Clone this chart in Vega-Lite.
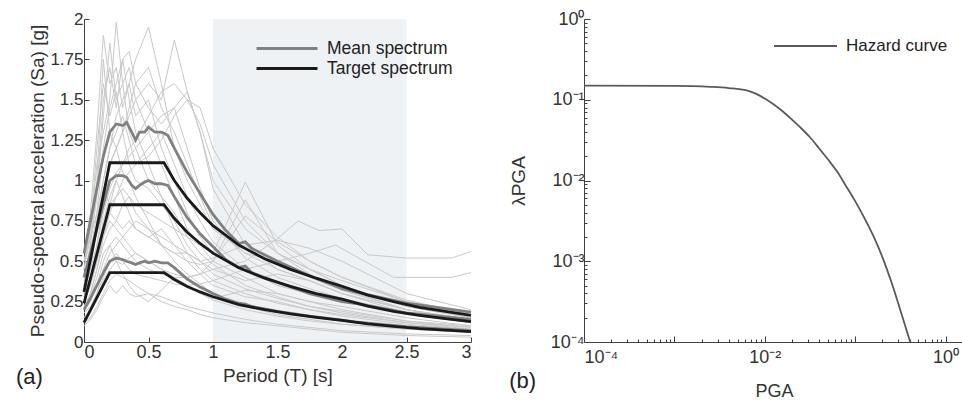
{
"$schema":"https://vega.github.io/schema/vega-lite/v6.json",
"padding":{"left":15,"top":10,"right":0,"bottom":0},
"spacing":32,
"resolve":{"scale":{"color":"independent"},"legend":{"color":"independent"}},
"config":{"font":"Liberation Sans","view":{"stroke":null},
"axis":{"grid":false,"domainColor":"#404040","tickColor":"#404040","labelColor":"#333333","titleColor":"#333333","labelFontSize":17,"titleFontSize":19,"titleFontWeight":"normal","tickSize":-5,"labelPadding":6},
"axisX":{"labelFontSize":18},
"legend":{"orient":"top-right","title":null,"symbolType":"M-5.1,0H1","symbolSize":400,"labelFontSize":17.5,"labelColor":"#222222","padding":0,"rowPadding":0,"labelOffset":8},
"title":{"fontSize":22,"fontWeight":"normal","color":"#222222"}},
"datasets":{
"rec":[
{"id":1,"T":0,"Sa":0.35},{"id":1,"T":0.05,"Sa":0.6},{"id":1,"T":0.1,"Sa":0.9},{"id":1,"T":0.15,"Sa":1.4},{"id":1,"T":0.2,"Sa":1.85},{"id":1,"T":0.25,"Sa":1.5},{"id":1,"T":0.3,"Sa":1.6},{"id":1,"T":0.35,"Sa":1.3},{"id":1,"T":0.4,"Sa":1.2},{"id":1,"T":0.5,"Sa":1.0},{"id":1,"T":0.6,"Sa":0.9},{"id":1,"T":0.7,"Sa":0.8},{"id":1,"T":0.8,"Sa":0.65},{"id":1,"T":0.9,"Sa":0.55},{"id":1,"T":1.0,"Sa":0.48},{"id":1,"T":1.25,"Sa":0.35},{"id":1,"T":1.5,"Sa":0.28},{"id":1,"T":1.75,"Sa":0.22},{"id":1,"T":2.0,"Sa":0.18},{"id":1,"T":2.5,"Sa":0.12},{"id":1,"T":3.0,"Sa":0.08},
{"id":2,"T":0,"Sa":0.45},{"id":2,"T":0.05,"Sa":0.7},{"id":2,"T":0.1,"Sa":1.1},{"id":2,"T":0.15,"Sa":1.3},{"id":2,"T":0.2,"Sa":1.5},{"id":2,"T":0.25,"Sa":1.98},{"id":2,"T":0.3,"Sa":1.6},{"id":2,"T":0.35,"Sa":1.7},{"id":2,"T":0.4,"Sa":1.5},{"id":2,"T":0.5,"Sa":1.3},{"id":2,"T":0.6,"Sa":1.1},{"id":2,"T":0.7,"Sa":0.9},{"id":2,"T":0.8,"Sa":0.7},{"id":2,"T":0.9,"Sa":0.6},{"id":2,"T":1.0,"Sa":0.5},{"id":2,"T":1.25,"Sa":0.4},{"id":2,"T":1.5,"Sa":0.3},{"id":2,"T":1.75,"Sa":0.25},{"id":2,"T":2.0,"Sa":0.22},{"id":2,"T":2.5,"Sa":0.15},{"id":2,"T":3.0,"Sa":0.1},
{"id":3,"T":0,"Sa":0.5},{"id":3,"T":0.05,"Sa":0.65},{"id":3,"T":0.1,"Sa":0.8},{"id":3,"T":0.15,"Sa":1.0},{"id":3,"T":0.2,"Sa":1.2},{"id":3,"T":0.25,"Sa":1.4},{"id":3,"T":0.3,"Sa":1.5},{"id":3,"T":0.35,"Sa":1.6},{"id":3,"T":0.4,"Sa":1.75},{"id":3,"T":0.5,"Sa":1.95},{"id":3,"T":0.6,"Sa":1.6},{"id":3,"T":0.7,"Sa":1.2},{"id":3,"T":0.8,"Sa":1.0},{"id":3,"T":0.9,"Sa":0.85},{"id":3,"T":1.0,"Sa":0.7},{"id":3,"T":1.25,"Sa":0.55},{"id":3,"T":1.5,"Sa":0.45},{"id":3,"T":1.75,"Sa":0.38},{"id":3,"T":2.0,"Sa":0.3},{"id":3,"T":2.5,"Sa":0.2},{"id":3,"T":3.0,"Sa":0.14},
{"id":4,"T":0,"Sa":0.4},{"id":4,"T":0.05,"Sa":0.55},{"id":4,"T":0.1,"Sa":0.7},{"id":4,"T":0.15,"Sa":0.9},{"id":4,"T":0.2,"Sa":1.1},{"id":4,"T":0.25,"Sa":1.2},{"id":4,"T":0.3,"Sa":1.3},{"id":4,"T":0.35,"Sa":1.4},{"id":4,"T":0.4,"Sa":1.5},{"id":4,"T":0.5,"Sa":1.6},{"id":4,"T":0.6,"Sa":1.5},{"id":4,"T":0.7,"Sa":1.87},{"id":4,"T":0.8,"Sa":1.55},{"id":4,"T":0.9,"Sa":1.3},{"id":4,"T":1.0,"Sa":1.0},{"id":4,"T":1.25,"Sa":0.7},{"id":4,"T":1.5,"Sa":0.55},{"id":4,"T":1.75,"Sa":0.45},{"id":4,"T":2.0,"Sa":0.38},{"id":4,"T":2.5,"Sa":0.25},{"id":4,"T":3.0,"Sa":0.18},
{"id":5,"T":0,"Sa":0.55},{"id":5,"T":0.05,"Sa":0.8},{"id":5,"T":0.1,"Sa":1.3},{"id":5,"T":0.15,"Sa":1.9},{"id":5,"T":0.2,"Sa":1.6},{"id":5,"T":0.25,"Sa":1.7},{"id":5,"T":0.3,"Sa":1.45},{"id":5,"T":0.35,"Sa":1.6},{"id":5,"T":0.4,"Sa":1.4},{"id":5,"T":0.5,"Sa":1.5},{"id":5,"T":0.6,"Sa":1.2},{"id":5,"T":0.7,"Sa":1.0},{"id":5,"T":0.8,"Sa":0.8},{"id":5,"T":0.9,"Sa":0.65},{"id":5,"T":1.0,"Sa":0.55},{"id":5,"T":1.25,"Sa":0.45},{"id":5,"T":1.5,"Sa":0.35},{"id":5,"T":1.75,"Sa":0.3},{"id":5,"T":2.0,"Sa":0.25},{"id":5,"T":2.5,"Sa":0.17},{"id":5,"T":3.0,"Sa":0.12},
{"id":6,"T":0,"Sa":0.3},{"id":6,"T":0.05,"Sa":0.4},{"id":6,"T":0.1,"Sa":0.55},{"id":6,"T":0.15,"Sa":0.75},{"id":6,"T":0.2,"Sa":0.9},{"id":6,"T":0.25,"Sa":1.0},{"id":6,"T":0.3,"Sa":1.1},{"id":6,"T":0.35,"Sa":1.2},{"id":6,"T":0.4,"Sa":1.25},{"id":6,"T":0.5,"Sa":1.4},{"id":6,"T":0.6,"Sa":1.55},{"id":6,"T":0.7,"Sa":1.6},{"id":6,"T":0.8,"Sa":1.5},{"id":6,"T":0.9,"Sa":1.35},{"id":6,"T":1.0,"Sa":1.1},{"id":6,"T":1.25,"Sa":0.75},{"id":6,"T":1.5,"Sa":0.55},{"id":6,"T":1.75,"Sa":0.45},{"id":6,"T":2.0,"Sa":0.35},{"id":6,"T":2.5,"Sa":0.22},{"id":6,"T":3.0,"Sa":0.15},
{"id":7,"T":0,"Sa":0.35},{"id":7,"T":0.05,"Sa":0.45},{"id":7,"T":0.1,"Sa":0.6},{"id":7,"T":0.15,"Sa":0.8},{"id":7,"T":0.2,"Sa":0.95},{"id":7,"T":0.25,"Sa":1.05},{"id":7,"T":0.3,"Sa":1.1},{"id":7,"T":0.35,"Sa":1.15},{"id":7,"T":0.4,"Sa":1.2},{"id":7,"T":0.5,"Sa":1.3},{"id":7,"T":0.6,"Sa":1.4},{"id":7,"T":0.7,"Sa":1.45},{"id":7,"T":0.8,"Sa":1.55},{"id":7,"T":0.9,"Sa":1.3},{"id":7,"T":1.0,"Sa":0.95},{"id":7,"T":1.25,"Sa":0.6},{"id":7,"T":1.5,"Sa":0.45},{"id":7,"T":1.75,"Sa":0.38},{"id":7,"T":2.0,"Sa":0.3},{"id":7,"T":2.5,"Sa":0.2},{"id":7,"T":3.0,"Sa":0.14},
{"id":8,"T":0,"Sa":0.25},{"id":8,"T":0.05,"Sa":0.35},{"id":8,"T":0.1,"Sa":0.5},{"id":8,"T":0.15,"Sa":0.7},{"id":8,"T":0.2,"Sa":0.8},{"id":8,"T":0.25,"Sa":0.9},{"id":8,"T":0.3,"Sa":0.95},{"id":8,"T":0.35,"Sa":0.9},{"id":8,"T":0.4,"Sa":0.85},{"id":8,"T":0.5,"Sa":0.8},{"id":8,"T":0.6,"Sa":0.75},{"id":8,"T":0.7,"Sa":0.7},{"id":8,"T":0.8,"Sa":0.65},{"id":8,"T":0.9,"Sa":0.6},{"id":8,"T":1.0,"Sa":0.55},{"id":8,"T":1.25,"Sa":0.99},{"id":8,"T":1.5,"Sa":0.6},{"id":8,"T":1.75,"Sa":0.45},{"id":8,"T":2.0,"Sa":0.35},{"id":8,"T":2.5,"Sa":0.22},{"id":8,"T":3.0,"Sa":0.15},
{"id":9,"T":0,"Sa":0.2},{"id":9,"T":0.05,"Sa":0.3},{"id":9,"T":0.1,"Sa":0.45},{"id":9,"T":0.15,"Sa":0.6},{"id":9,"T":0.2,"Sa":0.7},{"id":9,"T":0.25,"Sa":0.75},{"id":9,"T":0.3,"Sa":0.7},{"id":9,"T":0.35,"Sa":0.75},{"id":9,"T":0.4,"Sa":0.7},{"id":9,"T":0.5,"Sa":0.65},{"id":9,"T":0.6,"Sa":0.6},{"id":9,"T":0.7,"Sa":0.55},{"id":9,"T":0.8,"Sa":0.5},{"id":9,"T":0.9,"Sa":0.48},{"id":9,"T":1.0,"Sa":0.5},{"id":9,"T":1.25,"Sa":0.88},{"id":9,"T":1.5,"Sa":0.55},{"id":9,"T":1.75,"Sa":0.42},{"id":9,"T":2.0,"Sa":0.33},{"id":9,"T":2.5,"Sa":0.2},{"id":9,"T":3.0,"Sa":0.13},
{"id":10,"T":0,"Sa":0.15},{"id":10,"T":0.05,"Sa":0.2},{"id":10,"T":0.1,"Sa":0.3},{"id":10,"T":0.15,"Sa":0.45},{"id":10,"T":0.2,"Sa":0.55},{"id":10,"T":0.25,"Sa":0.6},{"id":10,"T":0.3,"Sa":0.65},{"id":10,"T":0.35,"Sa":0.6},{"id":10,"T":0.4,"Sa":0.55},{"id":10,"T":0.5,"Sa":0.5},{"id":10,"T":0.6,"Sa":0.45},{"id":10,"T":0.7,"Sa":0.42},{"id":10,"T":0.8,"Sa":0.4},{"id":10,"T":0.9,"Sa":0.42},{"id":10,"T":1.0,"Sa":0.5},{"id":10,"T":1.25,"Sa":0.78},{"id":10,"T":1.5,"Sa":0.62},{"id":10,"T":1.75,"Sa":0.5},{"id":10,"T":2.0,"Sa":0.4},{"id":10,"T":2.5,"Sa":0.25},{"id":10,"T":3.0,"Sa":0.16},
{"id":11,"T":0,"Sa":0.2},{"id":11,"T":0.05,"Sa":0.25},{"id":11,"T":0.1,"Sa":0.35},{"id":11,"T":0.15,"Sa":0.5},{"id":11,"T":0.2,"Sa":0.6},{"id":11,"T":0.25,"Sa":0.65},{"id":11,"T":0.3,"Sa":0.6},{"id":11,"T":0.35,"Sa":0.55},{"id":11,"T":0.4,"Sa":0.5},{"id":11,"T":0.5,"Sa":0.45},{"id":11,"T":0.6,"Sa":0.42},{"id":11,"T":0.7,"Sa":0.4},{"id":11,"T":0.8,"Sa":0.4},{"id":11,"T":0.9,"Sa":0.42},{"id":11,"T":1.0,"Sa":0.45},{"id":11,"T":1.25,"Sa":0.5},{"id":11,"T":1.5,"Sa":0.64},{"id":11,"T":1.66,"Sa":0.75},{"id":11,"T":1.82,"Sa":0.69},{"id":11,"T":2.0,"Sa":0.7},{"id":11,"T":2.2,"Sa":0.54},{"id":11,"T":2.5,"Sa":0.52},{"id":11,"T":2.85,"Sa":0.52},{"id":11,"T":3.0,"Sa":0.56},
{"id":12,"T":0,"Sa":0.18},{"id":12,"T":0.05,"Sa":0.22},{"id":12,"T":0.1,"Sa":0.3},{"id":12,"T":0.15,"Sa":0.4},{"id":12,"T":0.2,"Sa":0.5},{"id":12,"T":0.25,"Sa":0.55},{"id":12,"T":0.3,"Sa":0.5},{"id":12,"T":0.35,"Sa":0.45},{"id":12,"T":0.4,"Sa":0.42},{"id":12,"T":0.5,"Sa":0.4},{"id":12,"T":0.6,"Sa":0.38},{"id":12,"T":0.7,"Sa":0.36},{"id":12,"T":0.8,"Sa":0.35},{"id":12,"T":0.9,"Sa":0.36},{"id":12,"T":1.0,"Sa":0.38},{"id":12,"T":1.25,"Sa":0.45},{"id":12,"T":1.5,"Sa":0.5},{"id":12,"T":1.75,"Sa":0.55},{"id":12,"T":1.95,"Sa":0.6},{"id":12,"T":2.4,"Sa":0.4},{"id":12,"T":2.85,"Sa":0.4},{"id":12,"T":3.0,"Sa":0.43},
{"id":13,"T":0,"Sa":0.12},{"id":13,"T":0.05,"Sa":0.15},{"id":13,"T":0.1,"Sa":0.22},{"id":13,"T":0.15,"Sa":0.3},{"id":13,"T":0.2,"Sa":0.38},{"id":13,"T":0.25,"Sa":0.42},{"id":13,"T":0.3,"Sa":0.4},{"id":13,"T":0.35,"Sa":0.38},{"id":13,"T":0.4,"Sa":0.35},{"id":13,"T":0.5,"Sa":0.3},{"id":13,"T":0.6,"Sa":0.28},{"id":13,"T":0.7,"Sa":0.25},{"id":13,"T":0.8,"Sa":0.22},{"id":13,"T":0.9,"Sa":0.2},{"id":13,"T":1.0,"Sa":0.18},{"id":13,"T":1.25,"Sa":0.14},{"id":13,"T":1.5,"Sa":0.11},{"id":13,"T":1.75,"Sa":0.09},{"id":13,"T":2.0,"Sa":0.07},{"id":13,"T":2.5,"Sa":0.05},{"id":13,"T":3.0,"Sa":0.04},
{"id":14,"T":0,"Sa":0.28},{"id":14,"T":0.05,"Sa":0.4},{"id":14,"T":0.1,"Sa":0.6},{"id":14,"T":0.15,"Sa":0.85},{"id":14,"T":0.2,"Sa":1.1},{"id":14,"T":0.25,"Sa":1.2},{"id":14,"T":0.3,"Sa":1.05},{"id":14,"T":0.35,"Sa":1.0},{"id":14,"T":0.4,"Sa":0.9},{"id":14,"T":0.5,"Sa":0.75},{"id":14,"T":0.6,"Sa":0.6},{"id":14,"T":0.7,"Sa":0.5},{"id":14,"T":0.8,"Sa":0.42},{"id":14,"T":0.9,"Sa":0.36},{"id":14,"T":1.0,"Sa":0.3},{"id":14,"T":1.25,"Sa":0.22},{"id":14,"T":1.5,"Sa":0.17},{"id":14,"T":1.75,"Sa":0.14},{"id":14,"T":2.0,"Sa":0.11},{"id":14,"T":2.5,"Sa":0.08},{"id":14,"T":3.0,"Sa":0.06},
{"id":15,"T":0,"Sa":0.4},{"id":15,"T":0.05,"Sa":0.6},{"id":15,"T":0.1,"Sa":0.95},{"id":15,"T":0.15,"Sa":1.5},{"id":15,"T":0.2,"Sa":1.7},{"id":15,"T":0.25,"Sa":1.45},{"id":15,"T":0.3,"Sa":1.75},{"id":15,"T":0.35,"Sa":1.5},{"id":15,"T":0.4,"Sa":1.3},{"id":15,"T":0.5,"Sa":1.1},{"id":15,"T":0.6,"Sa":0.9},{"id":15,"T":0.7,"Sa":0.7},{"id":15,"T":0.8,"Sa":0.55},{"id":15,"T":0.9,"Sa":0.45},{"id":15,"T":1.0,"Sa":0.38},{"id":15,"T":1.25,"Sa":0.3},{"id":15,"T":1.5,"Sa":0.24},{"id":15,"T":1.75,"Sa":0.2},{"id":15,"T":2.0,"Sa":0.16},{"id":15,"T":2.5,"Sa":0.11},{"id":15,"T":3.0,"Sa":0.08},
{"id":16,"T":0,"Sa":0.5},{"id":16,"T":0.05,"Sa":0.7},{"id":16,"T":0.1,"Sa":1.2},{"id":16,"T":0.15,"Sa":1.6},{"id":16,"T":0.2,"Sa":1.4},{"id":16,"T":0.25,"Sa":1.55},{"id":16,"T":0.3,"Sa":1.3},{"id":16,"T":0.35,"Sa":1.45},{"id":16,"T":0.4,"Sa":1.6},{"id":16,"T":0.5,"Sa":1.7},{"id":16,"T":0.6,"Sa":1.45},{"id":16,"T":0.7,"Sa":1.3},{"id":16,"T":0.8,"Sa":1.1},{"id":16,"T":0.9,"Sa":0.9},{"id":16,"T":1.0,"Sa":0.72},{"id":16,"T":1.25,"Sa":0.55},{"id":16,"T":1.5,"Sa":0.5},{"id":16,"T":1.75,"Sa":0.4},{"id":16,"T":2.0,"Sa":0.32},{"id":16,"T":2.5,"Sa":0.2},{"id":16,"T":3.0,"Sa":0.13},
{"id":17,"T":0,"Sa":0.3},{"id":17,"T":0.05,"Sa":0.45},{"id":17,"T":0.1,"Sa":0.7},{"id":17,"T":0.15,"Sa":0.95},{"id":17,"T":0.2,"Sa":0.85},{"id":17,"T":0.25,"Sa":1.0},{"id":17,"T":0.3,"Sa":0.9},{"id":17,"T":0.35,"Sa":0.8},{"id":17,"T":0.4,"Sa":0.7},{"id":17,"T":0.5,"Sa":0.65},{"id":17,"T":0.6,"Sa":0.7},{"id":17,"T":0.7,"Sa":0.6},{"id":17,"T":0.8,"Sa":0.5},{"id":17,"T":0.9,"Sa":0.42},{"id":17,"T":1.0,"Sa":0.35},{"id":17,"T":1.25,"Sa":0.28},{"id":17,"T":1.5,"Sa":0.25},{"id":17,"T":1.75,"Sa":0.2},{"id":17,"T":2.0,"Sa":0.17},{"id":17,"T":2.5,"Sa":0.12},{"id":17,"T":3.0,"Sa":0.09},
{"id":18,"T":0,"Sa":0.2},{"id":18,"T":0.05,"Sa":0.28},{"id":18,"T":0.1,"Sa":0.4},{"id":18,"T":0.15,"Sa":0.55},{"id":18,"T":0.2,"Sa":0.6},{"id":18,"T":0.25,"Sa":0.5},{"id":18,"T":0.3,"Sa":0.42},{"id":18,"T":0.35,"Sa":0.35},{"id":18,"T":0.4,"Sa":0.3},{"id":18,"T":0.5,"Sa":0.25},{"id":18,"T":0.6,"Sa":0.32},{"id":18,"T":0.7,"Sa":0.4},{"id":18,"T":0.8,"Sa":0.35},{"id":18,"T":0.9,"Sa":0.3},{"id":18,"T":1.0,"Sa":0.26},{"id":18,"T":1.25,"Sa":0.2},{"id":18,"T":1.5,"Sa":0.16},{"id":18,"T":1.75,"Sa":0.13},{"id":18,"T":2.0,"Sa":0.11},{"id":18,"T":2.5,"Sa":0.08},{"id":18,"T":3.0,"Sa":0.06},
{"id":19,"T":0,"Sa":0.22},{"id":19,"T":0.05,"Sa":0.3},{"id":19,"T":0.1,"Sa":0.45},{"id":19,"T":0.15,"Sa":0.65},{"id":19,"T":0.2,"Sa":0.8},{"id":19,"T":0.25,"Sa":0.75},{"id":19,"T":0.3,"Sa":0.85},{"id":19,"T":0.35,"Sa":0.9},{"id":19,"T":0.4,"Sa":0.8},{"id":19,"T":0.5,"Sa":0.7},{"id":19,"T":0.6,"Sa":0.6},{"id":19,"T":0.7,"Sa":0.55},{"id":19,"T":0.8,"Sa":0.55},{"id":19,"T":0.9,"Sa":0.5},{"id":19,"T":1.0,"Sa":0.45},{"id":19,"T":1.25,"Sa":0.38},{"id":19,"T":1.5,"Sa":0.42},{"id":19,"T":1.75,"Sa":0.38},{"id":19,"T":2.0,"Sa":0.3},{"id":19,"T":2.5,"Sa":0.18},{"id":19,"T":3.0,"Sa":0.12},
{"id":20,"T":0,"Sa":0.33},{"id":20,"T":0.05,"Sa":0.5},{"id":20,"T":0.1,"Sa":0.75},{"id":20,"T":0.15,"Sa":1.0},{"id":20,"T":0.2,"Sa":1.2},{"id":20,"T":0.25,"Sa":1.3},{"id":20,"T":0.3,"Sa":1.4},{"id":20,"T":0.35,"Sa":1.25},{"id":20,"T":0.4,"Sa":1.1},{"id":20,"T":0.5,"Sa":1.2},{"id":20,"T":0.6,"Sa":1.3},{"id":20,"T":0.7,"Sa":1.1},{"id":20,"T":0.8,"Sa":0.9},{"id":20,"T":0.9,"Sa":0.75},{"id":20,"T":1.0,"Sa":0.62},{"id":20,"T":1.25,"Sa":0.45},{"id":20,"T":1.5,"Sa":0.35},{"id":20,"T":1.75,"Sa":0.3},{"id":20,"T":2.0,"Sa":0.26},{"id":20,"T":2.5,"Sa":0.18},{"id":20,"T":3.0,"Sa":0.12},
{"id":21,"T":0,"Sa":0.3},{"id":21,"T":0.05,"Sa":0.4},{"id":21,"T":0.1,"Sa":0.55},{"id":21,"T":0.15,"Sa":0.7},{"id":21,"T":0.2,"Sa":0.85},{"id":21,"T":0.25,"Sa":0.9},{"id":21,"T":0.3,"Sa":1.0},{"id":21,"T":0.35,"Sa":1.05},{"id":21,"T":0.4,"Sa":1.1},{"id":21,"T":0.5,"Sa":1.15},{"id":21,"T":0.6,"Sa":1.25},{"id":21,"T":0.7,"Sa":1.4},{"id":21,"T":0.8,"Sa":1.5},{"id":21,"T":0.9,"Sa":1.45},{"id":21,"T":1.0,"Sa":1.2},{"id":21,"T":1.25,"Sa":0.85},{"id":21,"T":1.5,"Sa":0.65},{"id":21,"T":1.75,"Sa":0.5},{"id":21,"T":2.0,"Sa":0.4},{"id":21,"T":2.5,"Sa":0.26},{"id":21,"T":3.0,"Sa":0.17},
{"id":22,"T":0,"Sa":0.15},{"id":22,"T":0.05,"Sa":0.2},{"id":22,"T":0.1,"Sa":0.28},{"id":22,"T":0.15,"Sa":0.38},{"id":22,"T":0.2,"Sa":0.45},{"id":22,"T":0.25,"Sa":0.5},{"id":22,"T":0.3,"Sa":0.48},{"id":22,"T":0.35,"Sa":0.52},{"id":22,"T":0.4,"Sa":0.55},{"id":22,"T":0.5,"Sa":0.5},{"id":22,"T":0.6,"Sa":0.45},{"id":22,"T":0.7,"Sa":0.4},{"id":22,"T":0.8,"Sa":0.35},{"id":22,"T":0.9,"Sa":0.3},{"id":22,"T":1.0,"Sa":0.27},{"id":22,"T":1.25,"Sa":0.32},{"id":22,"T":1.5,"Sa":0.3},{"id":22,"T":1.75,"Sa":0.25},{"id":22,"T":2.0,"Sa":0.2},{"id":22,"T":2.5,"Sa":0.13},{"id":22,"T":3.0,"Sa":0.09},
{"id":23,"T":0,"Sa":0.25},{"id":23,"T":0.05,"Sa":0.35},{"id":23,"T":0.1,"Sa":0.5},{"id":23,"T":0.15,"Sa":0.65},{"id":23,"T":0.2,"Sa":0.75},{"id":23,"T":0.25,"Sa":0.7},{"id":23,"T":0.3,"Sa":0.65},{"id":23,"T":0.35,"Sa":0.7},{"id":23,"T":0.4,"Sa":0.75},{"id":23,"T":0.5,"Sa":0.7},{"id":23,"T":0.6,"Sa":0.65},{"id":23,"T":0.7,"Sa":0.6},{"id":23,"T":0.8,"Sa":0.55},{"id":23,"T":0.9,"Sa":0.5},{"id":23,"T":1.0,"Sa":0.52},{"id":23,"T":1.25,"Sa":0.6},{"id":23,"T":1.5,"Sa":0.63},{"id":23,"T":1.75,"Sa":0.58},{"id":23,"T":2.0,"Sa":0.5},{"id":23,"T":2.5,"Sa":0.3},{"id":23,"T":3.0,"Sa":0.2},
{"id":24,"T":0,"Sa":0.45},{"id":24,"T":0.05,"Sa":0.65},{"id":24,"T":0.1,"Sa":1.0},{"id":24,"T":0.15,"Sa":1.75},{"id":24,"T":0.2,"Sa":1.3},{"id":24,"T":0.25,"Sa":1.2},{"id":24,"T":0.3,"Sa":1.3},{"id":24,"T":0.35,"Sa":1.1},{"id":24,"T":0.4,"Sa":1.0},{"id":24,"T":0.5,"Sa":0.95},{"id":24,"T":0.6,"Sa":0.85},{"id":24,"T":0.7,"Sa":0.75},{"id":24,"T":0.8,"Sa":0.6},{"id":24,"T":0.9,"Sa":0.5},{"id":24,"T":1.0,"Sa":0.42},{"id":24,"T":1.25,"Sa":0.33},{"id":24,"T":1.5,"Sa":0.27},{"id":24,"T":1.75,"Sa":0.22},{"id":24,"T":2.0,"Sa":0.19},{"id":24,"T":2.5,"Sa":0.13},{"id":24,"T":3.0,"Sa":0.1},
{"id":25,"T":0,"Sa":0.1},{"id":25,"T":0.05,"Sa":0.14},{"id":25,"T":0.1,"Sa":0.2},{"id":25,"T":0.15,"Sa":0.28},{"id":25,"T":0.2,"Sa":0.35},{"id":25,"T":0.25,"Sa":0.3},{"id":25,"T":0.3,"Sa":0.35},{"id":25,"T":0.35,"Sa":0.3},{"id":25,"T":0.4,"Sa":0.28},{"id":25,"T":0.5,"Sa":0.3},{"id":25,"T":0.6,"Sa":0.25},{"id":25,"T":0.7,"Sa":0.22},{"id":25,"T":0.8,"Sa":0.2},{"id":25,"T":0.9,"Sa":0.17},{"id":25,"T":1.0,"Sa":0.15},{"id":25,"T":1.25,"Sa":0.12},{"id":25,"T":1.5,"Sa":0.1},{"id":25,"T":1.75,"Sa":0.08},{"id":25,"T":2.0,"Sa":0.06},{"id":25,"T":2.5,"Sa":0.04},{"id":25,"T":3.0,"Sa":0.03},
{"id":26,"T":0,"Sa":0.38},{"id":26,"T":0.05,"Sa":0.55},{"id":26,"T":0.1,"Sa":0.8},{"id":26,"T":0.15,"Sa":1.2},{"id":26,"T":0.2,"Sa":1.45},{"id":26,"T":0.25,"Sa":1.6},{"id":26,"T":0.3,"Sa":1.75},{"id":26,"T":0.35,"Sa":1.8},{"id":26,"T":0.4,"Sa":1.6},{"id":26,"T":0.5,"Sa":1.45},{"id":26,"T":0.6,"Sa":1.35},{"id":26,"T":0.7,"Sa":1.45},{"id":26,"T":0.8,"Sa":1.2},{"id":26,"T":0.9,"Sa":0.95},{"id":26,"T":1.0,"Sa":0.75},{"id":26,"T":1.25,"Sa":0.52},{"id":26,"T":1.5,"Sa":0.4},{"id":26,"T":1.75,"Sa":0.33},{"id":26,"T":2.0,"Sa":0.27},{"id":26,"T":2.5,"Sa":0.18},{"id":26,"T":3.0,"Sa":0.12}
],
"spec":[
{"type":"Mean spectrum","lvl":1,"T":0,"Sa":0.55},{"type":"Mean spectrum","lvl":1,"T":0.05,"Sa":0.75},{"type":"Mean spectrum","lvl":1,"T":0.1,"Sa":0.95},{"type":"Mean spectrum","lvl":1,"T":0.15,"Sa":1.15},{"type":"Mean spectrum","lvl":1,"T":0.2,"Sa":1.3},{"type":"Mean spectrum","lvl":1,"T":0.25,"Sa":1.35},{"type":"Mean spectrum","lvl":1,"T":0.3,"Sa":1.34},{"type":"Mean spectrum","lvl":1,"T":0.33,"Sa":1.36},{"type":"Mean spectrum","lvl":1,"T":0.37,"Sa":1.3},{"type":"Mean spectrum","lvl":1,"T":0.4,"Sa":1.25},{"type":"Mean spectrum","lvl":1,"T":0.43,"Sa":1.3},{"type":"Mean spectrum","lvl":1,"T":0.47,"Sa":1.3},{"type":"Mean spectrum","lvl":1,"T":0.5,"Sa":1.33},{"type":"Mean spectrum","lvl":1,"T":0.55,"Sa":1.3},{"type":"Mean spectrum","lvl":1,"T":0.6,"Sa":1.3},{"type":"Mean spectrum","lvl":1,"T":0.65,"Sa":1.28},{"type":"Mean spectrum","lvl":1,"T":0.7,"Sa":1.2},{"type":"Mean spectrum","lvl":1,"T":0.8,"Sa":1.05},{"type":"Mean spectrum","lvl":1,"T":0.9,"Sa":0.92},{"type":"Mean spectrum","lvl":1,"T":1.0,"Sa":0.79},{"type":"Mean spectrum","lvl":1,"T":1.1,"Sa":0.69},{"type":"Mean spectrum","lvl":1,"T":1.2,"Sa":0.61},{"type":"Mean spectrum","lvl":1,"T":1.25,"Sa":0.62},{"type":"Mean spectrum","lvl":1,"T":1.3,"Sa":0.58},{"type":"Mean spectrum","lvl":1,"T":1.5,"Sa":0.5},{"type":"Mean spectrum","lvl":1,"T":1.75,"Sa":0.41},{"type":"Mean spectrum","lvl":1,"T":2.0,"Sa":0.33},{"type":"Mean spectrum","lvl":1,"T":2.1,"Sa":0.31},{"type":"Mean spectrum","lvl":1,"T":2.5,"Sa":0.24},{"type":"Mean spectrum","lvl":1,"T":3.0,"Sa":0.185},
{"type":"Mean spectrum","lvl":2,"T":0,"Sa":0.4},{"type":"Mean spectrum","lvl":2,"T":0.05,"Sa":0.55},{"type":"Mean spectrum","lvl":2,"T":0.1,"Sa":0.7},{"type":"Mean spectrum","lvl":2,"T":0.15,"Sa":0.85},{"type":"Mean spectrum","lvl":2,"T":0.2,"Sa":1.0},{"type":"Mean spectrum","lvl":2,"T":0.25,"Sa":1.03},{"type":"Mean spectrum","lvl":2,"T":0.3,"Sa":1.03},{"type":"Mean spectrum","lvl":2,"T":0.33,"Sa":1.02},{"type":"Mean spectrum","lvl":2,"T":0.37,"Sa":0.97},{"type":"Mean spectrum","lvl":2,"T":0.4,"Sa":0.95},{"type":"Mean spectrum","lvl":2,"T":0.43,"Sa":0.97},{"type":"Mean spectrum","lvl":2,"T":0.47,"Sa":0.99},{"type":"Mean spectrum","lvl":2,"T":0.5,"Sa":1.0},{"type":"Mean spectrum","lvl":2,"T":0.55,"Sa":0.98},{"type":"Mean spectrum","lvl":2,"T":0.6,"Sa":0.98},{"type":"Mean spectrum","lvl":2,"T":0.65,"Sa":0.97},{"type":"Mean spectrum","lvl":2,"T":0.7,"Sa":0.9},{"type":"Mean spectrum","lvl":2,"T":0.8,"Sa":0.77},{"type":"Mean spectrum","lvl":2,"T":0.9,"Sa":0.67},{"type":"Mean spectrum","lvl":2,"T":1.0,"Sa":0.59},{"type":"Mean spectrum","lvl":2,"T":1.1,"Sa":0.51},{"type":"Mean spectrum","lvl":2,"T":1.2,"Sa":0.46},{"type":"Mean spectrum","lvl":2,"T":1.25,"Sa":0.47},{"type":"Mean spectrum","lvl":2,"T":1.3,"Sa":0.43},{"type":"Mean spectrum","lvl":2,"T":1.5,"Sa":0.37},{"type":"Mean spectrum","lvl":2,"T":1.75,"Sa":0.3},{"type":"Mean spectrum","lvl":2,"T":2.0,"Sa":0.25},{"type":"Mean spectrum","lvl":2,"T":2.1,"Sa":0.24},{"type":"Mean spectrum","lvl":2,"T":2.5,"Sa":0.18},{"type":"Mean spectrum","lvl":2,"T":3.0,"Sa":0.14},
{"type":"Mean spectrum","lvl":3,"T":0,"Sa":0.2},{"type":"Mean spectrum","lvl":3,"T":0.05,"Sa":0.27},{"type":"Mean spectrum","lvl":3,"T":0.1,"Sa":0.35},{"type":"Mean spectrum","lvl":3,"T":0.15,"Sa":0.43},{"type":"Mean spectrum","lvl":3,"T":0.2,"Sa":0.5},{"type":"Mean spectrum","lvl":3,"T":0.25,"Sa":0.52},{"type":"Mean spectrum","lvl":3,"T":0.3,"Sa":0.51},{"type":"Mean spectrum","lvl":3,"T":0.33,"Sa":0.5},{"type":"Mean spectrum","lvl":3,"T":0.37,"Sa":0.49},{"type":"Mean spectrum","lvl":3,"T":0.4,"Sa":0.48},{"type":"Mean spectrum","lvl":3,"T":0.43,"Sa":0.49},{"type":"Mean spectrum","lvl":3,"T":0.47,"Sa":0.5},{"type":"Mean spectrum","lvl":3,"T":0.5,"Sa":0.49},{"type":"Mean spectrum","lvl":3,"T":0.55,"Sa":0.5},{"type":"Mean spectrum","lvl":3,"T":0.6,"Sa":0.49},{"type":"Mean spectrum","lvl":3,"T":0.65,"Sa":0.49},{"type":"Mean spectrum","lvl":3,"T":0.7,"Sa":0.46},{"type":"Mean spectrum","lvl":3,"T":0.8,"Sa":0.39},{"type":"Mean spectrum","lvl":3,"T":0.9,"Sa":0.34},{"type":"Mean spectrum","lvl":3,"T":1.0,"Sa":0.3},{"type":"Mean spectrum","lvl":3,"T":1.1,"Sa":0.265},{"type":"Mean spectrum","lvl":3,"T":1.2,"Sa":0.24},{"type":"Mean spectrum","lvl":3,"T":1.25,"Sa":0.235},{"type":"Mean spectrum","lvl":3,"T":1.3,"Sa":0.22},{"type":"Mean spectrum","lvl":3,"T":1.5,"Sa":0.19},{"type":"Mean spectrum","lvl":3,"T":1.75,"Sa":0.16},{"type":"Mean spectrum","lvl":3,"T":2.0,"Sa":0.135},{"type":"Mean spectrum","lvl":3,"T":2.1,"Sa":0.125},{"type":"Mean spectrum","lvl":3,"T":2.5,"Sa":0.095},{"type":"Mean spectrum","lvl":3,"T":3.0,"Sa":0.07},
{"type":"Target spectrum","lvl":1,"T":0,"Sa":0.31},{"type":"Target spectrum","lvl":1,"T":0.2,"Sa":1.11},{"type":"Target spectrum","lvl":1,"T":0.62,"Sa":1.11},{"type":"Target spectrum","lvl":1,"T":0.7,"Sa":1.0},{"type":"Target spectrum","lvl":1,"T":0.8,"Sa":0.89},{"type":"Target spectrum","lvl":1,"T":0.9,"Sa":0.8},{"type":"Target spectrum","lvl":1,"T":1.0,"Sa":0.72},{"type":"Target spectrum","lvl":1,"T":1.2,"Sa":0.6},{"type":"Target spectrum","lvl":1,"T":1.4,"Sa":0.515},{"type":"Target spectrum","lvl":1,"T":1.6,"Sa":0.45},{"type":"Target spectrum","lvl":1,"T":1.8,"Sa":0.395},{"type":"Target spectrum","lvl":1,"T":2.0,"Sa":0.345},{"type":"Target spectrum","lvl":1,"T":2.2,"Sa":0.29},{"type":"Target spectrum","lvl":1,"T":2.4,"Sa":0.25},{"type":"Target spectrum","lvl":1,"T":2.6,"Sa":0.215},{"type":"Target spectrum","lvl":1,"T":2.8,"Sa":0.19},{"type":"Target spectrum","lvl":1,"T":3.0,"Sa":0.165},
{"type":"Target spectrum","lvl":2,"T":0,"Sa":0.24},{"type":"Target spectrum","lvl":2,"T":0.2,"Sa":0.85},{"type":"Target spectrum","lvl":2,"T":0.62,"Sa":0.85},{"type":"Target spectrum","lvl":2,"T":0.7,"Sa":0.766},{"type":"Target spectrum","lvl":2,"T":0.8,"Sa":0.68},{"type":"Target spectrum","lvl":2,"T":0.9,"Sa":0.61},{"type":"Target spectrum","lvl":2,"T":1.0,"Sa":0.55},{"type":"Target spectrum","lvl":2,"T":1.2,"Sa":0.46},{"type":"Target spectrum","lvl":2,"T":1.4,"Sa":0.395},{"type":"Target spectrum","lvl":2,"T":1.6,"Sa":0.345},{"type":"Target spectrum","lvl":2,"T":1.8,"Sa":0.3},{"type":"Target spectrum","lvl":2,"T":2.0,"Sa":0.265},{"type":"Target spectrum","lvl":2,"T":2.2,"Sa":0.222},{"type":"Target spectrum","lvl":2,"T":2.4,"Sa":0.19},{"type":"Target spectrum","lvl":2,"T":2.6,"Sa":0.165},{"type":"Target spectrum","lvl":2,"T":2.8,"Sa":0.145},{"type":"Target spectrum","lvl":2,"T":3.0,"Sa":0.126},
{"type":"Target spectrum","lvl":3,"T":0,"Sa":0.12},{"type":"Target spectrum","lvl":3,"T":0.2,"Sa":0.43},{"type":"Target spectrum","lvl":3,"T":0.62,"Sa":0.43},{"type":"Target spectrum","lvl":3,"T":0.7,"Sa":0.387},{"type":"Target spectrum","lvl":3,"T":0.8,"Sa":0.344},{"type":"Target spectrum","lvl":3,"T":0.9,"Sa":0.31},{"type":"Target spectrum","lvl":3,"T":1.0,"Sa":0.28},{"type":"Target spectrum","lvl":3,"T":1.2,"Sa":0.232},{"type":"Target spectrum","lvl":3,"T":1.4,"Sa":0.2},{"type":"Target spectrum","lvl":3,"T":1.6,"Sa":0.174},{"type":"Target spectrum","lvl":3,"T":1.8,"Sa":0.153},{"type":"Target spectrum","lvl":3,"T":2.0,"Sa":0.134},{"type":"Target spectrum","lvl":3,"T":2.2,"Sa":0.112},{"type":"Target spectrum","lvl":3,"T":2.4,"Sa":0.097},{"type":"Target spectrum","lvl":3,"T":2.6,"Sa":0.083},{"type":"Target spectrum","lvl":3,"T":2.8,"Sa":0.074},{"type":"Target spectrum","lvl":3,"T":3.0,"Sa":0.064}
],
"haz":[
{"curve":"Hazard curve","PGA":0.0001,"lam":0.1496},{"curve":"Hazard curve","PGA":0.001,"lam":0.1489},{"curve":"Hazard curve","PGA":0.001585,"lam":0.1476},{"curve":"Hazard curve","PGA":0.002512,"lam":0.1445},{"curve":"Hazard curve","PGA":0.003981,"lam":0.1396},{"curve":"Hazard curve","PGA":0.00631,"lam":0.1303},{"curve":"Hazard curve","PGA":0.007943,"lam":0.1189},{"curve":"Hazard curve","PGA":0.01,"lam":0.1035},{"curve":"Hazard curve","PGA":0.01259,"lam":0.0871},{"curve":"Hazard curve","PGA":0.01585,"lam":0.0716},{"curve":"Hazard curve","PGA":0.01995,"lam":0.0569},{"curve":"Hazard curve","PGA":0.02512,"lam":0.0447},{"curve":"Hazard curve","PGA":0.03162,"lam":0.0343},{"curve":"Hazard curve","PGA":0.03981,"lam":0.0251},{"curve":"Hazard curve","PGA":0.05012,"lam":0.0182},{"curve":"Hazard curve","PGA":0.0631,"lam":0.0129},{"curve":"Hazard curve","PGA":0.07943,"lam":0.00851},{"curve":"Hazard curve","PGA":0.1,"lam":0.00556},{"curve":"Hazard curve","PGA":0.1259,"lam":0.00347},{"curve":"Hazard curve","PGA":0.1585,"lam":0.00207},{"curve":"Hazard curve","PGA":0.1995,"lam":0.001135},{"curve":"Hazard curve","PGA":0.2512,"lam":0.000556},{"curve":"Hazard curve","PGA":0.3162,"lam":0.000248},{"curve":"Hazard curve","PGA":0.3548,"lam":0.000164},{"curve":"Hazard curve","PGA":0.3981,"lam":0.000108},{"curve":"Hazard curve","PGA":0.4074,"lam":0.0001}
]
},
"hconcat":[
{
"width":387,"height":323,
"title":{"text":"(a)","orient":"bottom","anchor":"start","frame":"bounds","dx":-13,"dy":-22},
"encoding":{
"x":{"field":"T","type":"quantitative","scale":{"domain":[0,3],"nice":false},"axis":{"title":"Period (T) [s]","values":[0,0.5,1,1.5,2,2.5,3],"labelExpr":"'' + datum.value","titlePadding":5}},
"y":{"field":"Sa","type":"quantitative","scale":{"domain":[0,2],"nice":false},"axis":{"title":"Pseudo-spectral acceleration (Sa) [g]","values":[0,0.25,0.5,0.75,1,1.25,1.5,1.75,2],"labelExpr":"'' + datum.value","titlePadding":2}}
},
"layer":[
{"data":{"values":[{"T0":1,"T1":2.5}]},"mark":{"type":"rect","color":"#eff2f4"},"encoding":{"x":{"field":"T0","type":"quantitative"},"x2":{"field":"T1"},"y":null}},
{"data":{"name":"rec"},"mark":{"type":"line","color":"#c9c9c9","strokeWidth":1},"encoding":{"detail":{"field":"id"}}},
{"data":{"name":"spec"},"mark":{"type":"line","strokeWidth":2.8},"encoding":{"detail":{"field":"lvl"},"color":{"field":"type","type":"nominal","scale":{"domain":["Mean spectrum","Target spectrum"],"range":["#808080","#1a1a1a"]},"legend":{"offset":18,"symbolStrokeWidth":2.8}}}}
]
},
{
"width":380,"height":323,
"title":{"text":"(b)","orient":"bottom","anchor":"start","frame":"bounds","dy":-33},
"data":{"name":"haz"},
"mark":{"type":"line","color":"#5a5a5a","strokeWidth":1.8,"clip":true,"interpolate":"monotone"},
"encoding":{
"x":{"field":"PGA","type":"quantitative","scale":{"type":"log","domain":[0.0001,1.6],"nice":false},"axis":{"title":"PGA","labelPadding":12,"titlePadding":16,"titleFontSize":18,"values":[0.0001,0.0002,0.0003,0.0004,0.0005,0.0006,0.0007,0.0008,0.0009,0.001,0.002,0.003,0.004,0.005,0.006,0.007,0.008,0.009,0.01,0.02,0.03,0.04,0.05,0.06,0.07,0.08,0.09,0.1,0.2,0.3,0.4,0.5,0.6,0.7,0.8,0.9,1],"labelExpr":"(abs(log(datum.value)/LN10 - round(log(datum.value)/LN10)) < 0.001 && round(log(datum.value)/LN10) % 2 == 0) ? '10' + replace(replace(replace(replace(replace(replace('' + round(log(datum.value)/LN10), '-', '⁻'), '0', '⁰'), '1', '¹'), '2', '²'), '3', '³'), '4', '⁴') : ''","tickSize":{"condition":{"test":"abs(log(datum.value)/LN10 - round(log(datum.value)/LN10)) < 0.001","value":-6},"value":-3}}},
"y":{"field":"lam","type":"quantitative","scale":{"type":"log","domain":[0.0001,1],"nice":false},"axis":{"title":"λPGA","titlePadding":22,"labelFontSize":18,"values":[0.0001,0.0002,0.0003,0.0004,0.0005,0.0006,0.0007,0.0008,0.0009,0.001,0.002,0.003,0.004,0.005,0.006,0.007,0.008,0.009,0.01,0.02,0.03,0.04,0.05,0.06,0.07,0.08,0.09,0.1,0.2,0.3,0.4,0.5,0.6,0.7,0.8,0.9,1],"labelExpr":"abs(log(datum.value)/LN10 - round(log(datum.value)/LN10)) < 0.001 ? '10' + replace(replace(replace(replace(replace(replace('' + round(log(datum.value)/LN10), '-', '⁻'), '0', '⁰'), '1', '¹'), '2', '²'), '3', '³'), '4', '⁴') : ''","tickSize":{"condition":{"test":"abs(log(datum.value)/LN10 - round(log(datum.value)/LN10)) < 0.001","value":-6},"value":-3}}},
"color":{"field":"curve","type":"nominal","scale":{"range":["#5a5a5a"]},"legend":{"offset":16,"symbolType":"M-5.3,0H1","symbolStrokeWidth":1.8,"labelFontSize":17}}
}
}
]
}
